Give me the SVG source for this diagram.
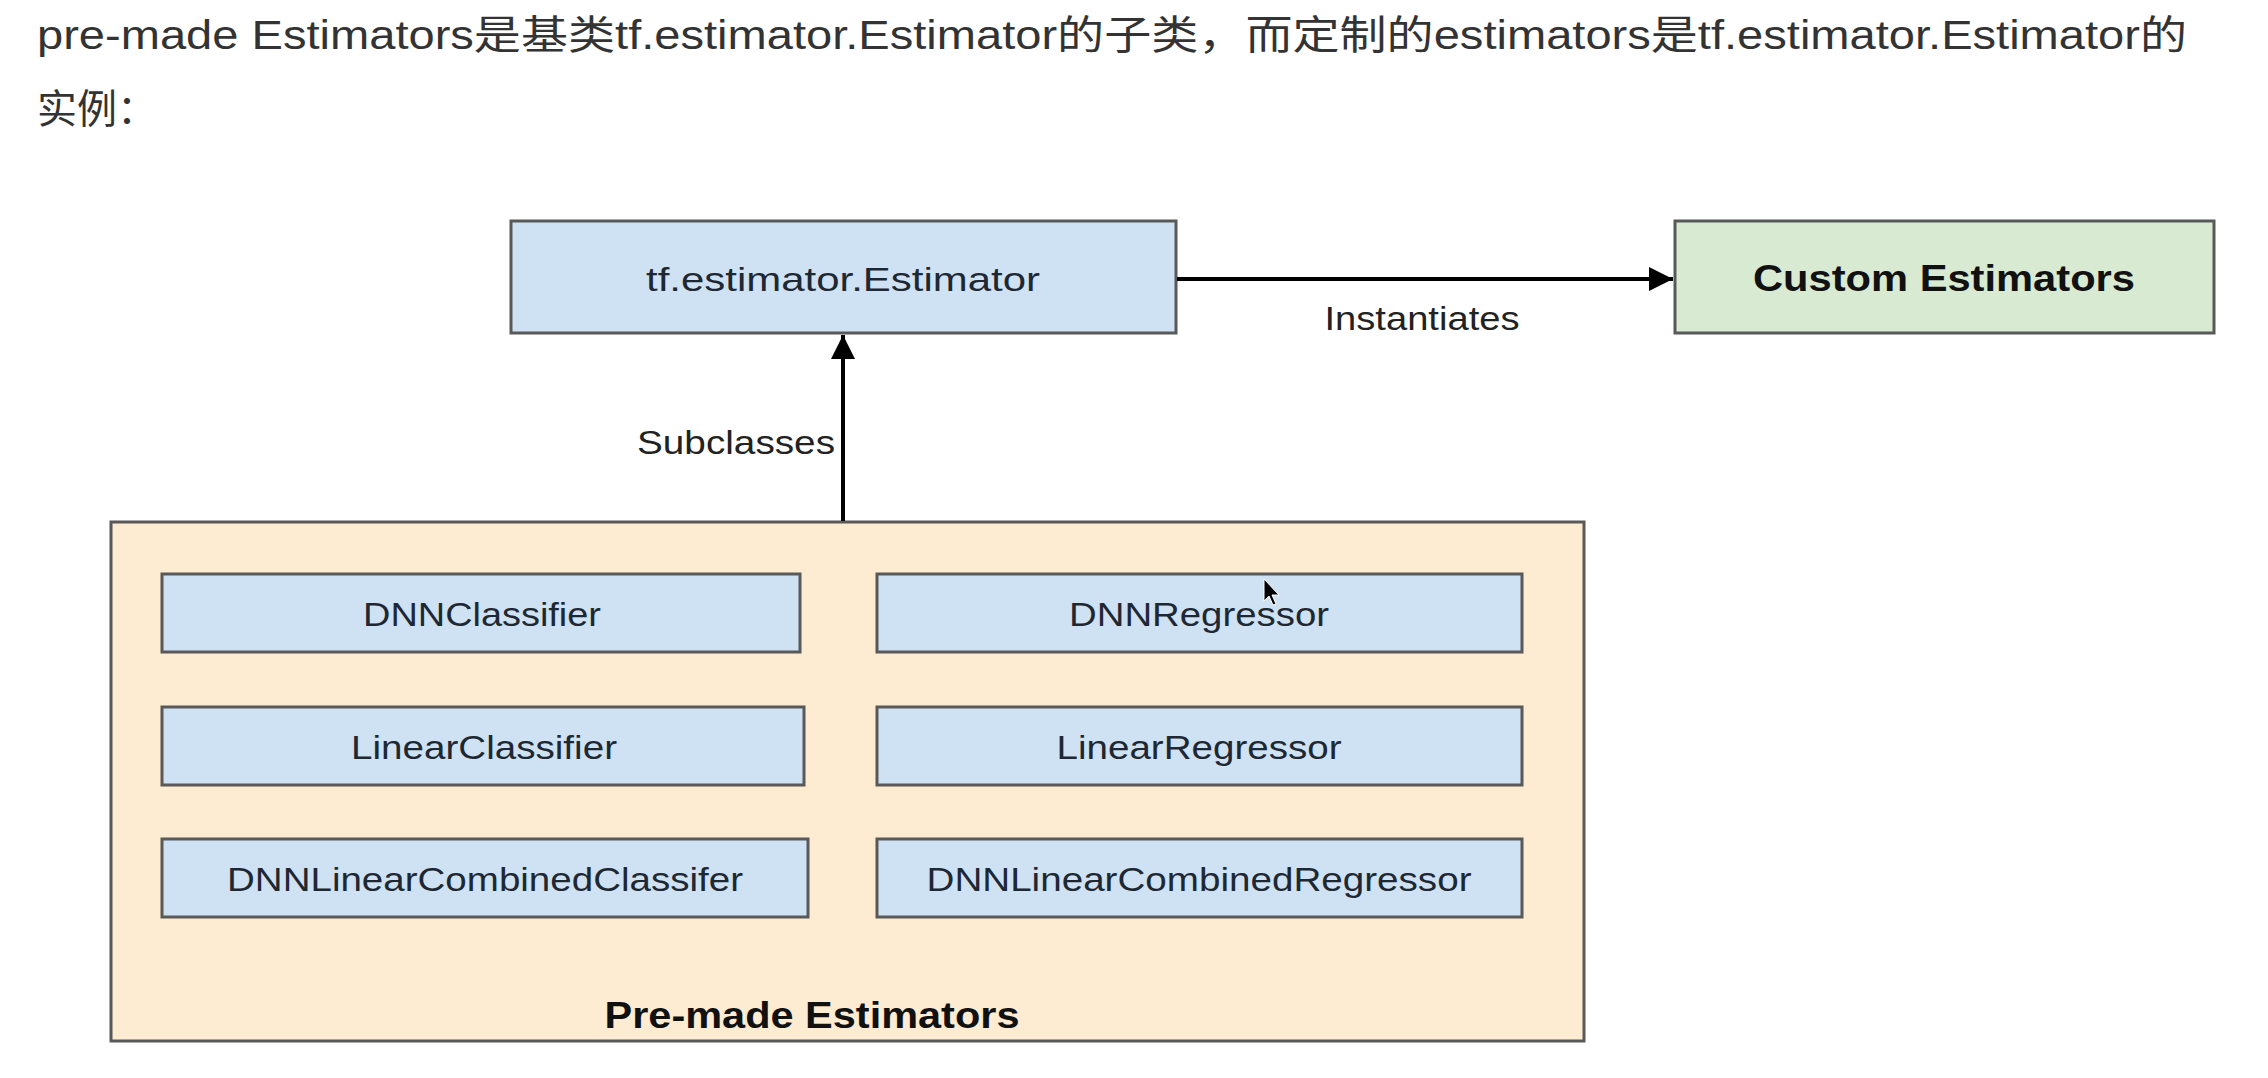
<svg xmlns="http://www.w3.org/2000/svg" width="2268" height="1078" viewBox="0 0 2268 1078">
<style>
.hdr{font-family:"Liberation Sans","Noto Sans CJK SC",sans-serif;font-size:40px;fill:#333}
.box{fill:#cfe2f3;stroke:#595959;stroke-width:3}
.lbl{font-family:"Liberation Sans",Arial,sans-serif;font-size:34px;fill:#1e2833;text-anchor:middle}
.bold{font-weight:bold;fill:#111;font-size:37px}
.edge{stroke:#000;stroke-width:4;fill:none}
.elbl{font-family:"Liberation Sans",Arial,sans-serif;font-size:33px;fill:#222}
</style>
<defs>
<marker id="ah" viewBox="0 0 10 10" refX="10" refY="5" markerWidth="6" markerHeight="6" markerUnits="strokeWidth" orient="auto">
<path d="M0,0 L10,5 L0,10 z" fill="#000"/>
</marker>
</defs>
<rect width="2268" height="1078" fill="#fff"/>
<g id="header">
<text class="hdr" x="37" y="49" textLength="2150" lengthAdjust="spacingAndGlyphs">pre-made Estimators是基类tf.estimator.Estimator的子类，而定制的estimators是tf.estimator.Estimator的</text>
<text class="hdr" x="37" y="123" font-size="42">实例：</text>
</g>
<g id="premade">
<rect x="111" y="522" width="1473" height="519" fill="#fdebd2" stroke="#595959" stroke-width="3"/>
<text class="lbl bold" x="812" y="1028" textLength="415" lengthAdjust="spacingAndGlyphs">Pre-made Estimators</text>
</g>
<g id="estimator">
<rect class="box" x="511" y="221" width="665" height="112"/>
<text class="lbl" x="843" y="291" font-size="37" textLength="394" lengthAdjust="spacingAndGlyphs">tf.estimator.Estimator</text>
</g>
<g id="custom">
<rect x="1675" y="221" width="539" height="112" fill="#d9ead3" stroke="#595959" stroke-width="3"/>
<text class="lbl bold" x="1944" y="291" textLength="382" lengthAdjust="spacingAndGlyphs">Custom Estimators</text>
</g>
<g id="dnnclassifier">
<rect class="box" x="162" y="574" width="638" height="78"/>
<text class="lbl" x="482" y="626" textLength="238" lengthAdjust="spacingAndGlyphs">DNNClassifier</text>
</g>
<g id="dnnregressor">
<rect class="box" x="877" y="574" width="645" height="78"/>
<text class="lbl" x="1199" y="626" textLength="260" lengthAdjust="spacingAndGlyphs">DNNRegressor</text>
</g>
<g id="linearclassifier">
<rect class="box" x="162" y="707" width="642" height="78"/>
<text class="lbl" x="484" y="759" textLength="266" lengthAdjust="spacingAndGlyphs">LinearClassifier</text>
</g>
<g id="linearregressor">
<rect class="box" x="877" y="707" width="645" height="78"/>
<text class="lbl" x="1199" y="759" textLength="285" lengthAdjust="spacingAndGlyphs">LinearRegressor</text>
</g>
<g id="dnnlinearcombinedclassifier">
<rect class="box" x="162" y="839" width="646" height="78"/>
<text class="lbl" x="485" y="891" textLength="516" lengthAdjust="spacingAndGlyphs">DNNLinearCombinedClassifer</text>
</g>
<g id="dnnlinearcombinedregressor">
<rect class="box" x="877" y="839" width="645" height="78"/>
<text class="lbl" x="1199" y="891" textLength="545" lengthAdjust="spacingAndGlyphs">DNNLinearCombinedRegressor</text>
</g>
<g id="connectors">
<line class="edge" x1="1177" y1="279" x2="1673" y2="279" marker-end="url(#ah)"/>
<text class="elbl" x="1422" y="330" text-anchor="middle" textLength="195" lengthAdjust="spacingAndGlyphs">Instantiates</text>
<line class="edge" x1="843" y1="521" x2="843" y2="335" marker-end="url(#ah)"/>
<text class="elbl" x="637" y="454" textLength="198" lengthAdjust="spacingAndGlyphs">Subclasses</text>
</g>
<path d="M1264,579 L1264,601 L1269,596 L1273,605 L1276,604 L1272,595 L1279,595 z" fill="#000" stroke="#fff" stroke-width="1"/>
</svg>
